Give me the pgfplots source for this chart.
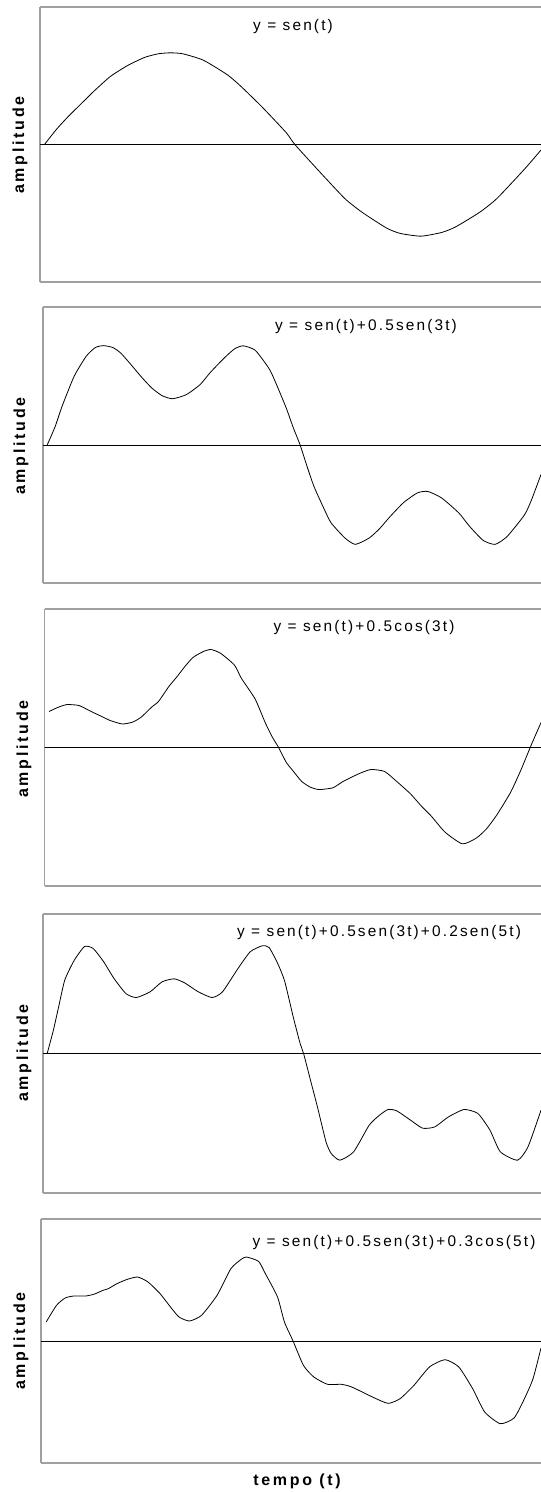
\documentclass[border=0pt]{standalone}
\usepackage{fontspec}
\setmainfont{Liberation Sans}
\newfontfamily\titlefont[LetterSpace=14]{Liberation Sans}
\newfontfamily\labelfont[LetterSpace=17]{Liberation Sans}
\usepackage{pgfplots}
\pgfplotsset{compat=1.18}
\definecolor{bordergray}{RGB}{160,160,160}
\newcommand\tfont{\titlefont\fontsize{15.4bp}{18bp}\selectfont}
\newcommand\lfont{\labelfont\bfseries\fontsize{16bp}{19bp}\selectfont}
\pgfplotsset{
  panel/.style={
    anchor=north west, scale only axis,
    axis x line=box, axis y line=left,
    axis line style={-, draw=bordergray, line width=1.3bp},
    ticks=none, clip=true,
  },
  curve/.style={black, line width=0.8bp, smooth, tension=0.35, mark=none},
  zero/.style={black, line width=1bp, mark=none},
}
\begin{document}
\begin{tikzpicture}
\useasboundingbox (0,0) rectangle (541bp,-1492bp);

% Panel 1
\begin{axis}[panel, at={(40bp,-7bp)}, width=501bp, height=275bp,
  xmin=-0.056, xmax=6.225, ymin=-1.5, ymax=1.5]
\addplot[zero] coordinates {(-1,0) (7,0)};
\addplot[curve] coordinates {
(0,0) (0.152,0.167) (0.303,0.31) (0.455,0.44) (0.606,0.57) (0.823,0.74)
(1.039,0.86) (1.255,0.95) (1.429,0.99) (1.580,1.0) (1.732,0.99) (1.991,0.92)
(2.294,0.76) (2.468,0.63) (2.727,0.41) (3.030,0.13) (3.139,0) (3.463,-0.31)
(3.766,-0.59) (3.983,-0.74) (4.286,-0.91) (4.459,-0.97) (4.719,-1.0)
(4.978,-0.96) (5.152,-0.90) (5.455,-0.74) (5.671,-0.59) (6.017,-0.27)
(6.225,-0.06)};
\end{axis}

% Panel 2
\begin{axis}[panel, at={(43bp,-307bp)}, width=498bp, height=276bp,
  xmin=-0.052, xmax=6.144, ymin=-1.5, ymax=1.5]
\addplot[zero] coordinates {(-1,0) (7,0)};
\addplot[curve] coordinates {
(0,0) (0.099,0.2) (0.185,0.42) (0.335,0.746) (0.485,0.964) (0.600,1.06)
(0.700,1.080) (0.815,1.06) (0.915,1.0) (1.043,0.873) (1.172,0.74) (1.301,0.62)
(1.430,0.536) (1.559,0.503) (1.730,0.547) (1.902,0.656) (2.031,0.79)
(2.203,0.946) (2.331,1.045) (2.439,1.078) (2.589,1.029) (2.761,0.83)
(2.847,0.67) (2.975,0.40) (3.061,0.19) (3.147,0) (3.233,-0.232) (3.319,-0.45)
(3.448,-0.70) (3.534,-0.848) (3.705,-1.011) (3.834,-1.08) (4.006,-1.011)
(4.135,-0.91) (4.264,-0.78) (4.435,-0.625) (4.607,-0.52) (4.736,-0.505)
(4.908,-0.576) (5.122,-0.739) (5.251,-0.88) (5.423,-1.036) (5.573,-1.08)
(5.724,-0.993) (5.938,-0.76) (6.024,-0.60) (6.144,-0.32)};
\end{axis}

% Panel 3
\begin{axis}[panel, at={(44.5bp,-609bp)}, width=496.5bp, height=277bp,
  xmin=-0.056, xmax=6.118, ymin=-2, ymax=2]
\addplot[zero] coordinates {(-1,0) (7,0)};
\addplot[curve] coordinates {
(0,0.52) (0.116,0.582) (0.223,0.62) (0.374,0.606) (0.524,0.52) (0.674,0.438)
(0.760,0.39) (0.910,0.34) (1.039,0.366) (1.146,0.438) (1.275,0.582)
(1.361,0.664) (1.490,0.88) (1.597,1.03) (1.683,1.16) (1.790,1.3) (1.919,1.386)
(2.014,1.415) (2.134,1.36) (2.306,1.19) (2.392,1.0) (2.563,0.70) (2.692,0.35)
(2.778,0.149) (2.855,0) (2.949,-0.212) (3.036,-0.34) (3.143,-0.491)
(3.250,-0.573) (3.358,-0.607) (3.529,-0.582) (3.658,-0.49) (3.851,-0.38)
(4.002,-0.318) (4.173,-0.346) (4.324,-0.491) (4.496,-0.67) (4.624,-0.838)
(4.753,-0.99) (4.925,-1.223) (5.140,-1.391) (5.311,-1.31) (5.440,-1.175)
(5.569,-0.973) (5.741,-0.645) (5.870,-0.32) (5.998,0.04) (6.118,0.36)};
\end{axis}

% Panel 4
\begin{axis}[panel, at={(43bp,-914bp)}, width=498bp, height=279bp,
  xmin=-0.052, xmax=6.144, ymin=-1.5, ymax=1.5]
\addplot[zero] coordinates {(-1,0) (7,0)};
\addplot[curve] coordinates {
(0,0) (0.077,0.25) (0.142,0.5) (0.219,0.79) (0.335,1.0) (0.464,1.15)
(0.571,1.13) (0.700,0.99) (0.829,0.81) (0.979,0.645) (1.108,0.602)
(1.280,0.663) (1.430,0.771) (1.580,0.803) (1.709,0.760) (1.881,0.663)
(2.052,0.602) (2.181,0.663) (2.374,0.914) (2.525,1.093) (2.675,1.158)
(2.761,1.14) (2.868,0.968) (2.954,0.78) (3.061,0.394) (3.147,0.108) (3.190,0)
(3.276,-0.287) (3.362,-0.573) (3.469,-0.95) (3.534,-1.075) (3.641,-1.147)
(3.813,-1.057) (4.006,-0.771) (4.135,-0.663) (4.242,-0.602) (4.349,-0.616)
(4.521,-0.717) (4.672,-0.803) (4.822,-0.789) (4.994,-0.681) (5.187,-0.602)
(5.359,-0.645) (5.509,-0.824) (5.638,-1.057) (5.852,-1.147) (5.982,-1.004)
(6.144,-0.609)};
\end{axis}

% Panel 5
\begin{axis}[panel, at={(41bp,-1219bp)}, width=500bp, height=244bp,
  xmin=-0.064, xmax=6.153, ymin=-2, ymax=2]
\addplot[zero] coordinates {(-1,0) (7,0)};
\addplot[curve] coordinates {
(0,0.311) (0.129,0.585) (0.236,0.705) (0.343,0.738) (0.494,0.738)
(0.601,0.770) (0.708,0.831) (0.773,0.858) (0.880,0.940) (1.009,1.011)
(1.138,1.049) (1.267,0.967) (1.417,0.776) (1.546,0.557) (1.653,0.393)
(1.782,0.328) (1.932,0.421) (2.125,0.749) (2.297,1.186) (2.426,1.339)
(2.490,1.377) (2.641,1.306) (2.726,1.104) (2.877,0.721) (2.963,0.311)
(3.070,0) (3.199,-0.399) (3.328,-0.590) (3.499,-0.710) (3.671,-0.710)
(3.800,-0.754) (4.058,-0.918) (4.251,-1.022) (4.401,-0.945) (4.573,-0.727)
(4.766,-0.426) (4.959,-0.306) (5.131,-0.426) (5.303,-0.781) (5.453,-1.164)
(5.646,-1.355) (5.818,-1.262) (5.947,-0.945) (6.054,-0.617) (6.153,-0.115)};
\end{axis}

% titles
\node[font=\tfont, inner sep=0pt] at (293bp,-27bp) {y = sen(t)};
\node[font=\tfont, inner sep=0pt] at (366bp,-327bp) {y = sen(t)+0.5sen(3t)};
\node[font=\tfont, inner sep=0pt] at (364bp,-628bp) {y = sen(t)+0.5cos(3t)};
\node[font=\tfont, inner sep=0pt] at (379bp,-933bp) {y = sen(t)+0.5sen(3t)+0.2sen(5t)};
\node[font=\tfont, inner sep=0pt] at (394bp,-1243bp) {y = sen(t)+0.5sen(3t)+0.3cos(5t)};

% axis labels
\node[font=\lfont, rotate=90, inner sep=0pt] at (20bp,-145bp) {amplitude};
\node[font=\lfont, rotate=90, inner sep=0pt] at (21bp,-446bp) {amplitude};
\node[font=\lfont, rotate=90, inner sep=0pt] at (24bp,-749bp) {amplitude};
\node[font=\lfont, rotate=90, inner sep=0pt] at (24bp,-1053bp) {amplitude};
\node[font=\lfont, rotate=90, inner sep=0pt] at (21bp,-1341bp) {amplitude};
\node[font=\lfont, inner sep=0pt] at (297bp,-1481bp) {tempo (t)};
\end{tikzpicture}
\end{document}
